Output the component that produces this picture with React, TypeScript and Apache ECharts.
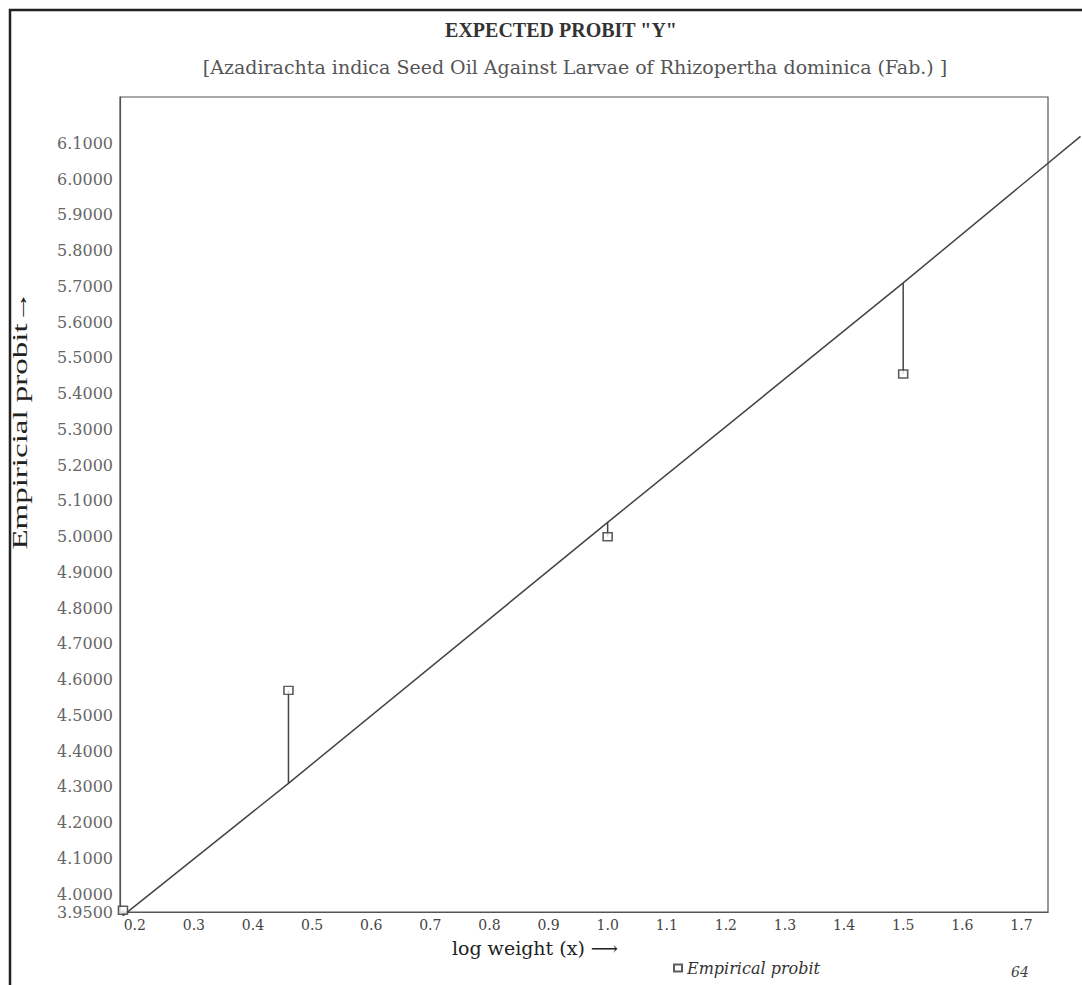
import React, { useEffect, useRef } from "react";
import * as echarts from "echarts";

const titleText = 'EXPECTED PROBIT "Y"';
const subtitleText = "[Azadirachta indica Seed Oil Against Larvae of Rhizopertha dominica (Fab.) ]";
const yAxisTitle = "Empiricial probit\u2192";
const xAxisTitle = "log weight (x) \u27F6";
const legendLabel = "Empirical probit";
const pageNumber = "64";

// log weight (x) of each dose
const logWeight = [0.18, 0.46, 1.0, 1.5];
// empirical probit read at each dose
const empiricalProbit = [3.955, 4.57, 5.0, 5.455];
// expected probit (regression line) read at each x
const expectedX = [0.18, 0.46, 1.0, 1.5, 1.8];
const expectedY = [3.94, 4.31, 5.04, 5.71, 6.12];

const X_MIN = 0.175;
const X_MAX = 1.745;
const Y_MIN = 3.95;
const Y_MAX = 6.23;

export default function App() {
  const ref = useRef<HTMLDivElement>(null);
  useEffect(() => {
    if (!ref.current) return;
    const chart = echarts.init(ref.current, null, { renderer: "svg" });
    const expectedAt = (x: number) => expectedY[expectedX.indexOf(x)];
    const residuals = logWeight.map((x, i) => [x, empiricalProbit[i], expectedAt(x)]);
    const option: any = {
      animation: false,
      backgroundColor: "#ffffff",
      grid: { left: 120, right: 34, top: 97, bottom: 73, show: true, borderColor: "#555", borderWidth: 1.2 },
      xAxis: {
        type: "value",
        min: X_MIN,
        max: X_MAX,
        interval: 0.025,
        axisLine: { show: true, lineStyle: { color: "#555", width: 1.2 } },
        axisTick: { show: false },
        splitLine: { show: false },
        axisLabel: {
          margin: 6,
          color: "#444",
          fontFamily: "DejaVu Serif",
          fontSize: 14,
          showMinLabel: true,
          showMaxLabel: false,
          formatter: (v: number) => {
            const r = Math.round(v * 10);
            if (Math.abs(v * 10 - r) < 1e-6 && r >= 2) return (r / 10).toFixed(1);
            return "";
          },
        },
      },
      yAxis: {
        type: "value",
        min: Y_MIN,
        max: Y_MAX,
        interval: 0.05,
        axisLine: { show: true, lineStyle: { color: "#555", width: 1.2 } },
        axisTick: { show: false },
        splitLine: { show: false },
        axisLabel: {
          margin: 7,
          color: "#666",
          fontFamily: "DejaVu Serif",
          fontSize: 16,
          showMaxLabel: false,
          formatter: (v: number) => {
            const r = Math.round(v * 100);
            if (r === 395) return "3.9500";
            if (r % 10 === 0 && r <= 610) return (r / 100).toFixed(4);
            return "";
          },
        },
      },
      legend: {
        data: [legendLabel],
        left: 668,
        top: 955,
        icon: "rect",
        itemWidth: 8,
        itemHeight: 7,
        itemGap: 6,
        textStyle: { fontFamily: "DejaVu Serif", fontStyle: "italic", fontSize: 16, color: "#333" },
      },
      graphic: [
        {
          type: "rect",
          shape: { x: 10, y: 10, width: 1100, height: 1000 },
          style: { fill: "none", stroke: "#222", lineWidth: 2.5 },
          silent: true,
        },
        {
          type: "text",
          x: 561,
          y: 30,
          style: {
            text: titleText,
            align: "center",
            verticalAlign: "middle",
            textAlign: "center",
            textVerticalAlign: "middle",
            font: "bold 20px 'Liberation Serif'",
            fill: "#333",
          },
        },
        {
          type: "text",
          x: 575,
          y: 67,
          style: {
            text: subtitleText,
            align: "center",
            verticalAlign: "middle",
            textAlign: "center",
            textVerticalAlign: "middle",
            font: "19px 'DejaVu Serif'",
            fill: "#555",
          },
        },
        {
          type: "text",
          x: 20,
          y: 420,
          rotation: Math.PI / 2,
          scaleX: 1.5,
          style: {
            text: yAxisTitle,
            align: "center",
            verticalAlign: "middle",
            textAlign: "center",
            textVerticalAlign: "middle",
            font: "22px 'Liberation Serif'",
            fill: "#222",
          },
        },
        {
          type: "text",
          x: 535,
          y: 948,
          style: {
            text: xAxisTitle,
            align: "center",
            verticalAlign: "middle",
            textAlign: "center",
            textVerticalAlign: "middle",
            font: "19px 'DejaVu Serif'",
            fill: "#222",
          },
        },
        {
          type: "text",
          x: 1020,
          y: 972,
          style: {
            text: pageNumber,
            align: "center",
            verticalAlign: "middle",
            textAlign: "center",
            textVerticalAlign: "middle",
            font: "italic 14px 'DejaVu Serif'",
            fill: "#444",
          },
        },
      ],
      series: [
        {
          name: "Expected probit",
          type: "custom",
          data: [[expectedX[0], expectedY[0]]],
          clip: false,
          renderItem: (params: any, api: any) => {
            const pts = expectedX.map((x, i) => api.coord([x, expectedY[i]]));
            return {
              type: "polyline",
              shape: { points: pts },
              style: { stroke: "#444", lineWidth: 1.5, fill: "none" },
            };
          },
          z: 2,
        },
        {
          name: "Residual",
          type: "custom",
          data: residuals,
          encode: { x: 0, y: [1, 2] },
          renderItem: (params: any, api: any) => {
            const p1 = api.coord([api.value(0), api.value(1)]);
            const p2 = api.coord([api.value(0), api.value(2)]);
            return {
              type: "line",
              shape: { x1: p1[0], y1: p1[1], x2: p2[0], y2: p2[1] },
              style: { stroke: "#444", lineWidth: 1.5 },
            };
          },
          z: 3,
        },
        {
          name: legendLabel,
          type: "scatter",
          data: logWeight.map((x, i) => [x, empiricalProbit[i]]),
          symbol: "rect",
          symbolSize: [9, 8],
          itemStyle: { color: "#ffffff", borderColor: "#333", borderWidth: 1.5 },
          z: 4,
        },
      ],
    };
    chart.setOption(option);
    return () => chart.dispose();
  }, []);
  return (
    <div
      ref={ref}
      style={{ position: "fixed", left: 0, top: 0, width: 1082, height: 985, background: "#fff" }}
    />
  );
}
